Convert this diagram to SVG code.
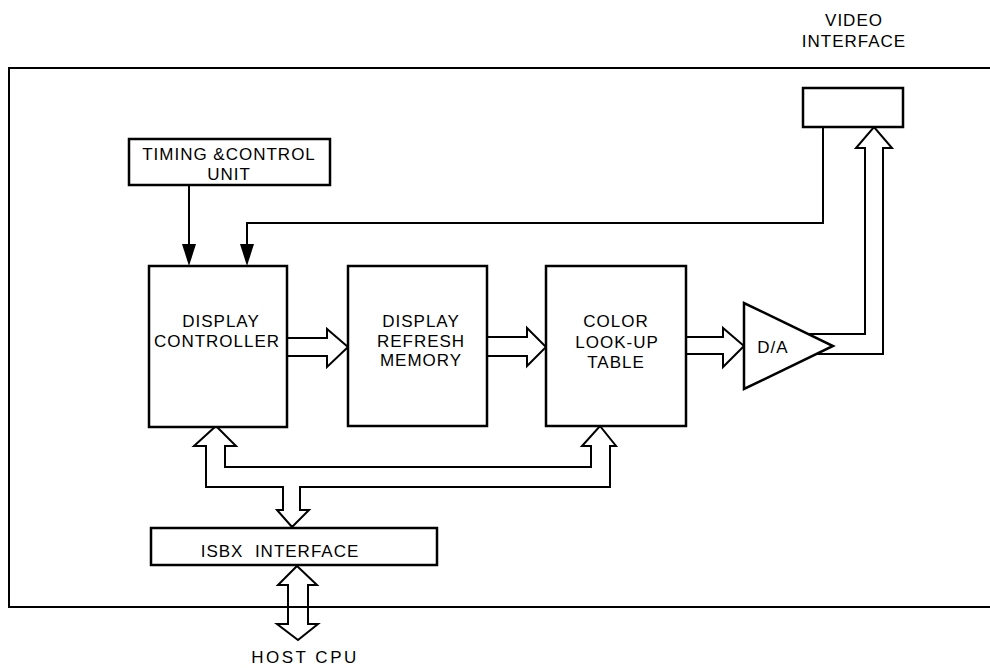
<svg xmlns="http://www.w3.org/2000/svg" width="990" height="668" viewBox="0 0 990 668">
<defs>
<style>
.box{fill:#fff;stroke:#000;stroke-width:2.5}
.ln{fill:none;stroke:#000;stroke-width:2}
.hol{fill:#fff;stroke:#000;stroke-width:2;stroke-linejoin:miter}
.t{font-family:"Liberation Sans",Arial,sans-serif;font-size:17px;letter-spacing:1px;fill:#000;text-anchor:middle}
</style>
<marker id="ah" markerWidth="14" markerHeight="22" refX="7" refY="22" orient="auto-start-reverse" markerUnits="userSpaceOnUse" viewBox="0 0 14 22">
<path d="M0,0 L14,0 L7,22 Z" fill="#000"/>
</marker>
</defs>
<rect width="990" height="668" fill="#fff"/>

<g id="frame">
<path class="ln" d="M990,68 H9 V607 H990" stroke-width="2.5"/>
</g>

<g id="connectors">
<line class="ln" x1="189" y1="185" x2="189" y2="244"/>
<path d="M182,244 L196,244 L189,266 Z" fill="#000"/>
<polyline class="ln" points="823,127 823,223 247,223 247,244"/>
<path d="M240,244 L254,244 L247,266 Z" fill="#000"/>
<polygon class="hol" points="287,338 327,338 327,329 348,347 327,367 327,356 287,356"/>
<polygon class="hol" points="487,337 527,337 527,328 546,347 527,366 527,356 487,356"/>
<polygon class="hol" points="686,337 723,337 723,328 744,346 723,367 723,354 686,354"/>
<polyline class="ln" points="808,334 865,334 865,148 856,148 874,127 892,148 883,148 883,354 816,354" fill="#fff"/>
<path class="hol" d="M216,426 L236,446 L225,446 L225,467 L591,467 L591,446 L582,446 L600,426 L616,446 L610,446 L610,487 L300,487 L300,510 L309,510 L292,527 L277,510 L283,510 L283,487 L206,487 L206,446 L194,446 Z"/>
<path class="hol" d="M297,566 L317,585 L308,585 L308,624 L318,624 L298,640 L277,624 L288,624 L288,585 L278,585 Z"/>
<line class="ln" x1="9" y1="607" x2="990" y2="607" stroke-width="2.5"/>
</g>

<g id="video-interface">
<rect class="box" x="803" y="88" width="100" height="39"/>
<text class="t" x="854" y="26">VIDEO</text>
<text class="t" x="854" y="47">INTERFACE</text>
</g>

<g id="timing-control">
<rect class="box" x="129" y="139" width="201" height="46"/>
<text class="t" x="229" y="160">TIMING &amp;CONTROL</text>
<text class="t" x="229" y="180">UNIT</text>
</g>

<g id="display-controller">
<rect class="box" x="149" y="266" width="138" height="161"/>
<text class="t" x="221" y="327">DISPLAY</text>
<text class="t" x="217" y="347">CONTROLLER</text>
</g>

<g id="display-refresh-memory">
<rect class="box" x="348" y="266" width="139" height="160"/>
<text class="t" x="421" y="327">DISPLAY</text>
<text class="t" x="421" y="347">REFRESH</text>
<text class="t" x="421" y="366">MEMORY</text>
</g>

<g id="color-lookup-table">
<rect class="box" x="546" y="266" width="140" height="160"/>
<text class="t" x="616" y="327">COLOR</text>
<text class="t" x="617" y="348">LOOK-UP</text>
<text class="t" x="616" y="368">TABLE</text>
</g>

<g id="da-converter">
<polygon class="box" points="744,303 744,389 833,346"/>
<text class="t" x="773" y="353">D/A</text>
</g>

<g id="isbx-interface">
<rect class="box" x="151" y="528" width="286" height="37"/>
<text class="t" x="280" y="557" xml:space="preserve">ISBX  INTERFACE</text>
</g>

<g id="host-cpu">
<text class="t" x="305" y="663" style="letter-spacing:2.5px">HOST CPU</text>
</g>
</svg>
